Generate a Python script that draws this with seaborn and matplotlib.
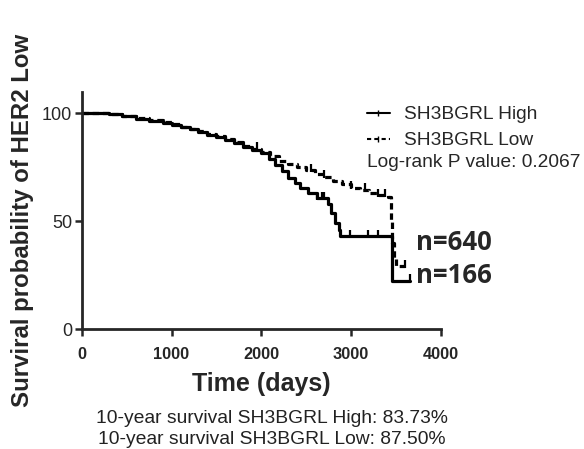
import numpy as np
import pandas as pd
import matplotlib
matplotlib.use("Agg")
import matplotlib.pyplot as plt
from matplotlib.lines import Line2D
import seaborn as sns

# Kaplan-Meier steps (time in days, survival %)
high_t = [0, 150, 300, 450, 600, 750, 900, 1000, 1100, 1200, 1300, 1400, 1500,
          1600, 1700, 1800, 1900, 2000, 2080, 2150, 2230, 2300, 2370, 2430,
          2520, 2620, 2740, 2780, 2820, 2860, 2880, 3455, 3655]
high_s = [100, 100, 99.5, 98.5, 97.5, 96.5, 95.5, 94.5, 93.5, 92.5, 91.5, 90,
          89, 87.5, 86, 84.5, 83, 81.5, 79, 76, 73, 70, 67.5, 65.5, 63, 60.5,
          58, 54, 49, 46, 43, 22.5, 22.5]
low_t = [0, 150, 300, 450, 600, 750, 900, 1000, 1100, 1200, 1300, 1400, 1500,
         1600, 1700, 1800, 1900, 2000, 2100, 2200, 2300, 2400, 2500, 2600,
         2700, 2800, 2900, 3000, 3100, 3200, 3300, 3410, 3440, 3455, 3480,
         3500, 3600]
low_s = [100, 100, 99.7, 98.8, 97.8, 96.8, 95.8, 94.8, 93.8, 92.8, 91.8, 90.5,
         89.5, 88, 86.5, 85, 83.5, 82, 80, 78, 76.5, 75, 73.5, 72, 70.5, 68.5,
         67, 65.5, 64.5, 63, 62, 61, 50, 40, 33, 29, 29]
high_cens = [2620, 2680, 2700, 2990, 3190, 3300, 3655]
low_cens = [1950, 2550, 2700, 3000, 3150, 3300, 3380, 3600]

legend_labels = ["SH3BGRL High", "SH3BGRL Low"]
pval_text = "Log-rank P value: 0.2067"
n_labels = ["n=640", "n=166"]
n_levels = [40, 25]  # survival level where the n labels sit
surv10 = ["10-year survival SH3BGRL High: 83.73%",
          "10-year survival SH3BGRL Low: 87.50%"]

df = pd.concat([
    pd.DataFrame({"t": high_t, "s": high_s, "grp": legend_labels[0]}),
    pd.DataFrame({"t": low_t, "s": low_s, "grp": legend_labels[1]}),
])

sns.set_style("ticks")
plt.rcParams["font.family"] = ["Liberation Sans", "DejaVu Sans"]

fig = plt.figure(figsize=(5.84, 4.49), dpi=100)
ax = fig.add_axes([0.140, 0.267, 0.615, 0.529])

sns.lineplot(data=df, x="t", y="s", hue="grp", style="grp",
             palette=["black", "black"], dashes=[(None, None), (2, 1.2)],
             drawstyle="steps-post", estimator=None, sort=False,
             lw=2.3, legend=False, ax=ax)

def step_at(ts, ss, x):
    idx = np.searchsorted(ts, x, side="right") - 1
    return np.array(ss)[idx]

for cens, ts, ss in [(high_cens, high_t, high_s), (low_cens, low_t, low_s)]:
    ys = step_at(ts, ss, cens)
    ax.plot(cens, ys + 1.2, ls="none", marker="|", ms=6, mew=1.6, color="black")

ax.set_xlim(0, 4000)
ax.set_ylim(0, 110)
ax.set_xticks([0, 1000, 2000, 3000, 4000])
ax.set_yticks([0, 50, 100])
for lab in ax.get_xticklabels():
    lab.set_fontweight("bold")
ax.tick_params(axis="x", labelsize=11.8, width=1.8, length=5, pad=8)
ax.tick_params(axis="y", labelsize=13, width=1.8, length=5, pad=2)
for side in ["left", "bottom"]:
    ax.spines[side].set_linewidth(2)
sns.despine(ax=ax)

ax.set_ylabel("")
ax.set_xlabel("Time (days)", fontsize=18, fontweight="bold", labelpad=7)
fig.text(0.038, 0.508, "Surviral probability of HER2 Low", rotation=90,
         fontsize=17.3, fontweight="bold", ha="center", va="center")

handles = [Line2D([], [], color="black", lw=1.5, marker="|", ms=5),
           Line2D([], [], color="black", lw=1.5, ls=(0, (2, 1.5)), marker="|", ms=5)]
ax.legend(handles, legend_labels, loc="upper left", bbox_to_anchor=(0.794, 0.94),
          frameon=False, fontsize=13.8, handlelength=1.2, handletextpad=0.75,
          borderaxespad=0, borderpad=0, labelspacing=0.45)
ax.text(0.794, 0.70, pval_text, transform=ax.transAxes, fontsize=13.8,
        ha="left", va="center", clip_on=False)

for lab, v in zip(n_labels, n_levels):
    ax.text(3720, v, lab, fontsize=18.5, fontweight="bold",
            family=["Open Sans", "DejaVu Sans"], ha="left", va="center")

fig.text(0.465, 0.069, surv10[0], fontsize=13.9, ha="center", va="center", color="#222222")
fig.text(0.465, 0.022, surv10[1], fontsize=13.9, ha="center", va="center", color="#222222")

fig.savefig("out.png", dpi=100)
